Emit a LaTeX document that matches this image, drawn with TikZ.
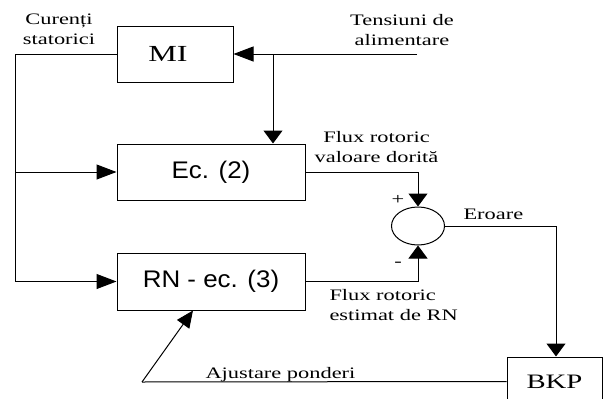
\documentclass[tikz,border=0pt]{standalone}
\usepackage{fontspec}
\setmainfont[FakeStretch=1.4]{Liberation Serif}
\newfontfamily\boxsans[FakeStretch=1.08]{Liberation Sans}
\usetikzlibrary{arrows.meta,calc,shapes.geometric}

\begin{document}
\begin{tikzpicture}[x=1pt, y=-1pt, line width=1pt,
  blk/.style={draw, rectangle, inner sep=0pt},
  sumnode/.style={draw, ellipse, inner sep=0pt, minimum width=53pt, minimum height=38pt},
  lbl/.style={font=\fontsize{16}{19.5}\selectfont, inner sep=0pt, align=center},
  harr/.style={-{Triangle[length=20pt, width=15pt]}},
  varr/.style={-{Triangle[length=13pt, width=19pt]}},
  darr/.style={-{Triangle[length=17pt, width=15pt]}}]
\useasboundingbox (0,0) rectangle (603,399);

% blocks
\node[blk, minimum width=116pt, minimum height=56pt, font=\fontsize{23}{26}\selectfont]
  (mi) at (175,54) {MI\hspace*{14pt}};
\node[blk, minimum width=188pt, minimum height=56pt, font=\boxsans\fontsize{24}{28}\selectfont]
  (ec) at (211,172) {Ec. (2)};
\node[blk, minimum width=188pt, minimum height=57pt, font=\boxsans\fontsize{24}{28}\selectfont]
  (rn) at (211,281.5) {RN - ec. (3)};
\node[blk, minimum width=95pt, minimum height=49pt, font=\fontsize{20.5}{24}\selectfont]
  (bkp) at (554.5,381.5) {BKP};
\node[sumnode] (sum) at (418,226) {};

% labels (base anchor = baseline of the last line)
\node[lbl, anchor=base] (cur) at (59,44) {Curenți\\statorici};
\node[lbl, anchor=base] (ten) at (402,45) {Tensiuni de\\alimentare};
\node[lbl, anchor=base] (fdor) at (376.5,162) {Flux rotoric\\valoare dorită};
\node[lbl, anchor=base west, align=left] (fest) at (329,320) {Flux rotoric\\estimat de RN};
\node[lbl, anchor=base west] (err) at (463,219) {Eroare};
\node[lbl, anchor=base west] (ajp) at (205,378) {Ajustare ponderi};
\node[lbl] (plus) at (398,200) {+};
\node[lbl] (minus) at (398,264) {-};

% connectors
\coordinate (tin) at (417,54);
\coordinate (tj) at (273,54);
\coordinate (lc) at (15,54);
\coordinate (aj) at (142,382);

\draw[harr] (tin) -- (mi.east);
\draw[varr] (tj) -- (tj |- ec.north);
\draw (mi.west) -- (lc);
\draw[harr] (lc) |- (rn.west);
\draw[harr] (lc |- ec.west) -- (ec.west);
\draw[varr] (ec.east) -| (sum.north);
\draw[varr] (rn.east) -| (sum.south);
\draw[varr] (sum.east) -| ([xshift=1.5pt]bkp.north);
\draw (bkp.west) -- (aj);
\draw[darr] (aj) -- ([xshift=-18pt]rn.south);
\end{tikzpicture}
\end{document}
